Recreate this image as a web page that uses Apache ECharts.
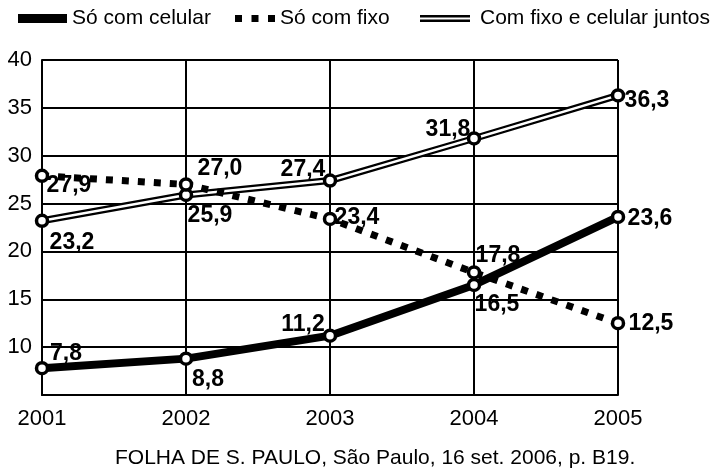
<!DOCTYPE html>
<html>
<head>
<meta charset="utf-8">
<script src="https://cdn.jsdelivr.net/npm/echarts@6/dist/echarts.min.js"></script>
<style>
html,body{margin:0;padding:0;background:#fff;}
#chart{width:713px;height:469px;}
</style>
</head>
<body>
<div id="chart"></div>
<script>
var years = ['2001', '2002', '2003', '2004', '2005'];
var soCelular = [7.8, 8.8, 11.2, 16.5, 23.6];
var soFixo = [27.9, 27.0, 23.4, 17.8, 12.5];
var juntos = [23.2, 25.9, 27.4, 31.8, 36.3];
var seriesNames = ['Só com celular', 'Só com fixo', 'Com fixo e celular juntos'];
var sourceText = 'FOLHA DE S. PAULO, São Paulo, 16 set. 2006, p. B19.';

var FONT = '"Liberation Sans", Arial, sans-serif';

var offCel = [[24, -15], [22, 21], [-27, -11], [23, 20], [32, 2]];
var offFixo = [[27, 10], [34, -16], [27, -1], [24, -17], [33, 0]];
var offJuntos = [[30, 22], [24, 21], [-27, -11], [-26, -9], [29, 5]];

function fmt(v) { return String(v.toFixed(1)).replace('.', ','); }
function withLabels(values, offs) {
  return values.map(function (v, i) {
    return {
      value: v,
      label: { show: true, position: 'inside', offset: offs[i], formatter: fmt(v) }
    };
  });
}
var labelStyle = { color: '#000', fontFamily: FONT, fontWeight: 'bold', fontSize: 23 };
var symStyle = { color: '#fff', borderColor: '#000', borderWidth: 3.5 };
var legendText = { fontFamily: FONT, fontSize: 21, color: '#000' };

var chart = echarts.init(document.getElementById('chart'), null, { renderer: 'canvas' });
chart.setOption({
  animation: false,
  backgroundColor: '#fff',
  textStyle: { fontFamily: FONT },
  legend: [
    {
      left: 18, top: 8, padding: 0, itemWidth: 49, itemHeight: 9,
      textStyle: legendText,
      data: [{ name: seriesNames[0], icon: 'rect', itemStyle: { color: '#000', borderWidth: 0 } }],
      selectedMode: false
    },
    {
      left: 235, top: 8, padding: 0, itemWidth: 40, itemHeight: 7,
      textStyle: legendText,
      data: [{ name: seriesNames[1], icon: 'path://M0,0h7v7h-7zM16.5,0h7v7h-7zM33,0h7v7h-7z', itemStyle: { color: '#000', borderWidth: 0 } }],
      selectedMode: false
    },
    {
      left: 420, top: 8, padding: 0, itemWidth: 50, itemHeight: 7,
      textStyle: { fontFamily: FONT, fontSize: 21, color: '#000', padding: [0, 0, 0, 5] },
      data: [{ name: seriesNames[2], icon: 'path://M0,0h50v2.5h-50zM0,4.5h50v2.5h-50z', itemStyle: { color: '#000', borderWidth: 0 } }],
      selectedMode: false
    }
  ],
  grid: { left: 42, right: 95, top: 60, bottom: 74 },
  xAxis: {
    type: 'category',
    data: years,
    boundaryGap: false,
    axisLine: { lineStyle: { color: '#000', width: 2 } },
    axisTick: { show: false },
    axisLabel: { color: '#000', fontFamily: FONT, fontSize: 22, margin: 13 },
    splitLine: { show: true, lineStyle: { color: '#000', width: 2 } }
  },
  yAxis: {
    type: 'value',
    min: 5, max: 40, interval: 5,
    axisLine: { show: true, lineStyle: { color: '#000', width: 2 } },
    axisTick: { show: false },
    axisLabel: {
      color: '#000', fontFamily: FONT, fontSize: 22, margin: 10,
      formatter: function (v) { return v === 5 ? '' : String(v); }
    },
    splitLine: { show: true, lineStyle: { color: '#000', width: 2 } }
  },
  graphic: [{
    type: 'text', left: 115, top: 448,
    style: { text: sourceText, fontFamily: FONT, fontSize: 21, fill: '#000' }
  }],
  series: [
    {
      name: seriesNames[2], type: 'line', z: 2, data: juntos,
      showSymbol: false, symbol: 'none',
      lineStyle: { color: '#000', width: 7 },
      itemStyle: { color: '#000' },
      silent: true
    },
    {
      name: 'juntos-inner', type: 'line', z: 3,
      data: withLabels(juntos, offJuntos),
      symbol: 'circle', symbolSize: 11,
      lineStyle: { color: '#fff', width: 2.5 },
      itemStyle: symStyle,
      label: labelStyle,
      silent: true
    },
    {
      name: seriesNames[1], type: 'line', z: 4,
      data: withLabels(soFixo, offFixo),
      symbol: 'circle', symbolSize: 11,
      lineStyle: { color: '#000', width: 7, type: [7, 9] },
      itemStyle: symStyle,
      label: labelStyle,
      silent: true
    },
    {
      name: seriesNames[0], type: 'line', z: 5,
      data: withLabels(soCelular, offCel),
      symbol: 'circle', symbolSize: 11,
      lineStyle: { color: '#000', width: 8 },
      itemStyle: symStyle,
      label: labelStyle,
      silent: true
    }
  ]
});
</script>
</body>
</html>
